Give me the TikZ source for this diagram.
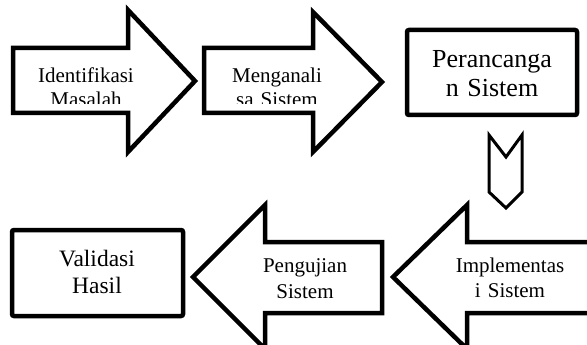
\documentclass[tikz,border=0pt]{standalone}
\usepackage{fontspec}
\setmainfont{Liberation Serif}
\begin{document}
\begin{tikzpicture}[x=1pt,y=-1pt,
  blockarrow/.style={draw=black,line width=4.5pt,fill=white,line join=miter,miter limit=10},
  stepbox/.style={draw=black,line width=4.5pt,fill=white,rounded corners=2pt},
  chevron/.style={draw=black,line width=3pt,fill=white,line join=miter},
  lbl/.style={text width=170pt,align=center,inner sep=0pt,anchor=base}]
\useasboundingbox (0,0) rectangle (587,345);
\fill[white] (0,0) rectangle (587,345);
% top row
\draw[blockarrow] (13,48) -- (128,48) -- (128,10) -- (195,81) -- (128,152) -- (128,113) -- (13,113) -- cycle;
\draw[blockarrow] (204,48) -- (313,48) -- (313,12) -- (382,82) -- (313,152) -- (313,113) -- (204,113) -- cycle;
\draw[stepbox] (407,30) rectangle (577,115);
% small down chevron
\draw[chevron] (489,135) -- (506,157) -- (522,135) -- (522,192) -- (506,208) -- (489,192) -- cycle;
% bottom row
\begin{scope}
\clip (0,0) rectangle (587,345);
\draw[blockarrow] (600,242) -- (467,242) -- (467,205) -- (393,277) -- (467,349) -- (467,313) -- (600,313);
\draw[blockarrow] (382,242) -- (265,242) -- (265,205) -- (193,277) -- (265,349) -- (265,313) -- (382,313) -- cycle;
\end{scope}
\draw[stepbox] (12,230) rectangle (183,316);
% texts
\begin{scope}
\clip (0,0) rectangle (587,104);
\node[lbl,font=\fontsize{21}{24}\selectfont] (t1) at (86,83) {Identifikasi\\Masalah};
\node[lbl,font=\fontsize{21}{24}\selectfont] (t2) at (277,83) {Menganali\\sa Sistem};
\end{scope}
\node[lbl,font=\fontsize{26}{29}\selectfont] (t3) at (492,68) {Perancanga\\n Sistem};
\node[lbl,font=\fontsize{21}{25}\selectfont] (t4) at (510,272) {Implementas\\i Sistem};
\node[lbl,font=\fontsize{21}{26}\selectfont] (t5) at (305,272) {Pengujian\\Sistem};
\node[lbl,font=\fontsize{23.5}{27}\selectfont] (t6) at (97,266) {Validasi\\Hasil};
\end{tikzpicture}
\end{document}
